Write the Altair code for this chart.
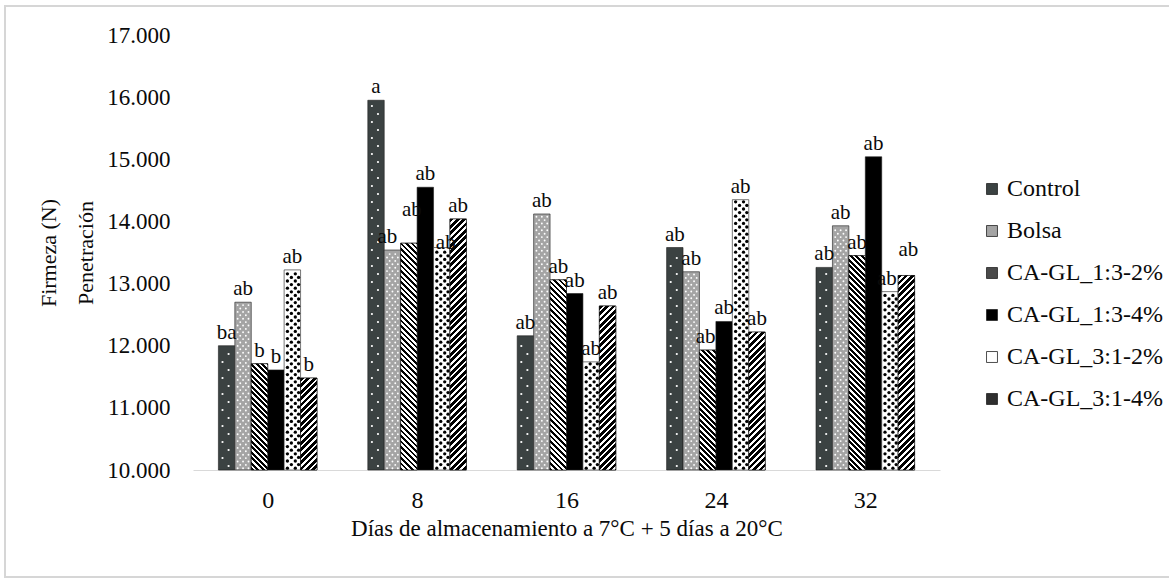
import math
import altair as alt
import pandas as pd

# ---------------- data ----------------
days = ["0", "8", "16", "24", "32"]
series = ["Control", "Bolsa", "CA-GL_1:3-2%", "CA-GL_1:3-4%", "CA-GL_3:1-2%", "CA-GL_3:1-4%"]

control = [12.00, 15.95, 12.16, 13.58, 13.26]
bolsa = [12.70, 13.54, 14.12, 13.19, 13.93]
gl13_2 = [11.71, 13.65, 13.06, 11.93, 13.45]
gl13_4 = [11.61, 14.55, 12.84, 12.39, 15.04]
gl31_2 = [13.22, 13.58, 11.74, 14.35, 12.87]
gl31_4 = [11.48, 14.04, 12.64, 12.22, 13.13]

let_control = ["ba", "a", "ab", "ab", "ab"]
let_bolsa = ["ab", "ab", "ab", "ab", "ab"]
let_gl13_2 = ["b", "ab", "ab", "ab", "ab"]
let_gl13_4 = ["b", "ab", "ab", "ab", "ab"]
let_gl31_2 = ["ab", "ab", "ab", "ab", "ab"]
let_gl31_4 = ["b", "ab", "ab", "ab", "ab"]

y_ticks = [10, 11, 12, 13, 14, 15, 16, 17]

values = [control, bolsa, gl13_2, gl13_4, gl31_2, gl31_4]
letters = [let_control, let_bolsa, let_gl13_2, let_gl13_4, let_gl31_2, let_gl31_4]

rows = []
for si, s in enumerate(series):
    for di, d in enumerate(days):
        rows.append({"day": d, "di": di, "series": s, "si": si,
                     "value": values[si][di], "letter": letters[si][di]})
df = pd.DataFrame(rows)

# ---------------- layout / style ----------------
W, H = 747, 435
YMIN, YMAX = 10, 17
BW = 0.11            # bar width in group units (group = 1 unit)
PXX = W / len(days)  # px per x unit
PXY = H / (YMAX - YMIN)
FONT = "'Liberation Serif', 'Times New Roman', Times, 'DejaVu Serif', serif"
INK = "#0a0a0a"

# label nudges (style only): (series index, day index) -> (dx, dy) in px
label_nudge = {(1, 1): (-5, 0), (2, 1): (3, -20), (4, 1): (4, 8),
               (4, 4): (-3, 0), (5, 4): (2, -12), (2, 3): (-2, 0)}

xscale = alt.Scale(domain=[0, len(days)], nice=False, zero=False)
yscale = alt.Scale(domain=[YMIN, YMAX], nice=False, zero=False)

label_expr = "[" + ",".join(f"'{d}'" for d in days) + "][floor(datum.value)]"

xaxis = alt.Axis(
    values=[i + 0.5 for i in range(len(days))], labelExpr=label_expr,
    ticks=False, tickSize=0, grid=False, domainColor="#d9d9d9", domainWidth=1.2,
    labelFont=FONT, labelFontSize=24, labelColor=INK, labelBaseline="middle",
    labelPadding=30, title="Días  de  almacenamiento  a  7°C + 5 días a 20°C",
    titleFont=FONT, titleFontSize=23, titleFontWeight="normal", titleColor=INK,
    titleBaseline="middle", titleX=W / 2, titleY=58)
yaxis = alt.Axis(
    values=y_ticks, format=".3f", grid=False, ticks=False, tickSize=0, domain=False,
    labelFont=FONT, labelFontSize=23, labelColor=INK, labelPadding=23,
    title=["Firmeza  (N)", "Penetración"], titleFont=FONT, titleFontSize=22,
    titleFontWeight="normal", titleColor=INK, titleLineHeight=37,
    titleBaseline="middle", titleX=48 - 193, titleY=H / 2)

geom = {
    "xl": f"datum.di + 0.5 + (datum.si - 3) * {BW}",
    "xr": f"datum.di + 0.5 + (datum.si - 2) * {BW}",
    "xc": f"datum.di + 0.5 + (datum.si - 2.5) * {BW}",
}

base = alt.Chart(df).transform_calculate(**geom).mark_rect(
    stroke="#1e1e1e", strokeWidth=0.6
).encode(
    x=alt.X("xl:Q", scale=xscale, axis=xaxis),
    x2="xr:Q",
    y=alt.Y("value:Q", scale=yscale, axis=yaxis),
    y2=alt.datum(YMIN),
    color=alt.Color("series:N", scale=alt.Scale(
        domain=series,
        range=["#3b4242", "#a4a4a4", "#4a4a4a", "#000000", "#ffffff", "#2f2f2f"]),
        legend=alt.Legend(orient="none", legendX=787, legendY=142, title=None,
                          symbolType="square", symbolSize=120, symbolStrokeColor="#222",
                          symbolStrokeWidth=0.8, labelFont=FONT, labelFontSize=24,
                          labelColor=INK, labelOffset=3, rowPadding=18, padding=0)),
)


def stripe_gradient(h, w, period, black_frac, back):
    if back:   # "\" stripes
        x1, y1, x2, y2 = 0, 1, 1, 1 - h / w
    else:      # "/" stripes
        x1, y1, x2, y2 = 0, 0, 1, h / w
    du = period * w / (w * w + h * h)
    umax = (w + h) * w / (w * w + h * h)
    stops = []
    k = 0
    while k * du < umax and k * du < 1:
        a = min(k * du, 1)
        b = min(a + black_frac * du, 1)
        c = min((k + 1) * du, 1)
        stops += [{"offset": a, "color": "#000"}, {"offset": b, "color": "#000"},
                  {"offset": b, "color": "#fff"}, {"offset": c, "color": "#fff"}]
        k += 1
    return {"gradient": "linear", "x1": x1, "y1": y1, "x2": x2, "y2": y2, "stops": stops}


layers = [base]

# striped bars (per bar gradient so the angle stays 45 degrees)
stripe_specs = {2: (5.5, 0.5, True), 5: (6.4, 0.58, False)}
for si, (period, frac, back) in stripe_specs.items():
    for di in range(len(days)):
        v = values[si][di]
        h = (v - YMIN) * PXY
        w = BW * PXX
        layers.append(
            alt.Chart(df).transform_filter(
                (alt.datum.si == si) & (alt.datum.di == di)
            ).transform_calculate(**geom).mark_rect(
                fill=stripe_gradient(h, w, period, frac, back), stroke="#111", strokeWidth=0.6
            ).encode(
                x=alt.X("xl:Q", scale=xscale, axis=xaxis), x2="xr:Q",
                y=alt.Y("value:Q", scale=yscale, axis=yaxis), y2=alt.datum(YMIN))
        )


def dot_layer(si, rows_px, phase, step, frac, color, size):
    R = PXY / rows_px
    return alt.Chart(df).transform_filter(alt.datum.si == si).transform_calculate(
        idx=f"sequence({phase}, floor((datum.value - {YMIN}) * {R}), {step})"
    ).transform_flatten(["idx"]).transform_calculate(
        yy=f"{YMIN} + (datum.idx + 0.5) / {R}",
        xx=f"datum.di + 0.5 + (datum.si - 3) * {BW} + {frac} * {BW}",
    ).mark_circle(color=color, size=size, opacity=1).encode(
        x=alt.X("xx:Q", scale=xscale, axis=xaxis),
        y=alt.Y("yy:Q", scale=yscale, axis=yaxis),
    )


# Control: white dots, alternating columns
layers.append(dot_layer(0, 8, 0, 2, 0.62, "#ffffff", 5))
layers.append(dot_layer(0, 8, 1, 2, 0.25, "#ffffff", 5))
# Bolsa: lattice of white dots on grey
for f in (0.17, 0.5, 0.83):
    layers.append(dot_layer(1, 3.4, 0, 2, f, "#ffffff", 3.5))
for f in (0.33, 0.67):
    layers.append(dot_layer(1, 3.4, 1, 2, f, "#ffffff", 3.5))
# CA-GL_3:1-2%: black dots on white
for f in (0.2, 0.68):
    layers.append(dot_layer(4, 3.6, 0, 2, f, "#000000", 11))
for f in (0.44, 0.88):
    layers.append(dot_layer(4, 3.6, 1, 2, f, "#000000", 11))


def text_layer(filt, dx=0, dy=0):
    return alt.Chart(df).transform_filter(filt).transform_calculate(**geom).mark_text(
        baseline="bottom", dx=dx, dy=-3 + dy, font=FONT, fontSize=21, color=INK
    ).encode(
        x=alt.X("xc:Q", scale=xscale, axis=xaxis),
        y=alt.Y("value:Q", scale=yscale, axis=yaxis),
        text="letter:N",
    )


plain = " && ".join(f"!(datum.si == {s} && datum.di == {d})" for (s, d) in label_nudge)
layers.append(text_layer(plain))
for (s, d), (dx, dy) in label_nudge.items():
    layers.append(text_layer(f"datum.si == {s} && datum.di == {d}", dx, dy))

frame = alt.Chart(pd.DataFrame({"k": [0]})).mark_rect(
    filled=False, stroke="#d6d6d6", strokeWidth=2
).encode(x=alt.value(-188), x2=alt.value(1100), y=alt.value(-29), y2=alt.value(542))
layers.append(frame)

chart = alt.layer(*layers).properties(
    width=W, height=H,
    padding={"left": 193, "top": 35, "right": 229, "bottom": 108},
    autosize=alt.AutoSizeParams(type="none"),
    background="white",
).configure(font=FONT).configure_view(strokeWidth=0).configure_axis(
    labelFont=FONT, titleFont=FONT
).configure_legend(labelFont=FONT)

chart.save("out.html", embed_options={"renderer": "svg", "actions": False})
